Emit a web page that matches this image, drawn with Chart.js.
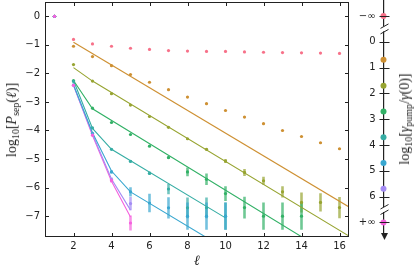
<!DOCTYPE html>
<html lang="en">
<head>
<meta charset="UTF-8" />
<title>Separation probability vs ell</title>
<script src="https://cdn.jsdelivr.net/npm/chart.js"></script>
<style>
  body { margin: 0; background: #fff; }
  #wrap { position: relative; width: 415px; height: 268px; overflow: hidden; background: #fff; }
  #main { position: absolute; left: 0; top: 0; }
  #pump { position: absolute; left: 350px; top: 0; }
  .vtitle {
    position: absolute; white-space: nowrap; line-height: 1;
    font-family: "Liberation Serif", serif; font-size: 14px; color: #222;
    transform: translate(-50%, -50%) rotate(-90deg);
  }
  .vtitle sub { font-size: 10px; vertical-align: -3px; line-height: 0; }
</style>
</head>
<body>
<div id="wrap">
  <canvas id="main" width="350" height="268"></canvas>
  <canvas id="pump" width="50" height="268"></canvas>
  <div class="vtitle" style="left:12px; top:120px">log<sub>10</sub>[<i>P</i><sub>sep</sub>(<i>ℓ</i>)]</div>
  <div class="vtitle" style="left:405px; top:119px">log<sub>10</sub>[<i>γ</i><sub>pump</sub>/<i>γ</i>(0)]</div>
</div>

<script>
  // ell values and log10 P_sep per pump strength (log10 gamma_pump/gamma(0))
  const ells = [1, 2, 3, 4, 5, 6, 7, 8, 9, 10, 11, 12, 13, 14, 15, 16];

  const pSepNone = [0, -0.81, -0.97, -1.05, -1.12, -1.16, -1.20, -1.22, -1.23, -1.23, -1.25, -1.26, -1.27, -1.28, -1.29, -1.30];
  const pSep07 = [0, -1.05, -1.41, -1.73, -2.04, -2.31, -2.57, -2.83, -3.06, -3.30, -3.53, -3.76, -4.00, -4.21, -4.43, -4.64];
  const pSep17 = [0, -1.69, -2.27, -2.71, -3.11, -3.51, -3.89, -4.29, -4.66, -5.07, -5.47, -5.76, -6.15, -6.52, -6.52, -6.70];
  const pSep27 = [0, -2.25, -3.22, -3.72, -4.14, -4.55, -4.95, -5.45, -5.71, -6.21, -6.70, -7.00, -7.00, -7.00];
  const pSep37 = [0, -2.28, -3.91, -4.66, -5.08, -5.50, -6.05, -6.71, -6.71, -7.00];
  const pSep47 = [0, -2.40, -4.10, -5.45, -6.15, -6.54, -6.71, -7.00, -7.00, -7.00];
  const pSep57 = [0, -2.42, -4.15, -5.72, -6.56];
  const pSepInf = [0, -2.42, -4.17, -5.75, -7.24];

  // error bar half-lengths (log10 units)
  const err07 = [0, 0, 0, 0, 0, 0, 0, 0, 0.01, 0.01, 0.01, 0.015, 0.015, 0.02, 0.02, 0.02];
  const err17 = [0, 0, 0, 0.01, 0.01, 0.015, 0.02, 0.03, 0.04, 0.07, 0.12, 0.14, 0.2, 0.35, 0.32, 0.37];
  const err27 = [0, 0, 0.01, 0.015, 0.02, 0.03, 0.05, 0.15, 0.2, 0.26, 0.38, 0.48, 0.48, 0.48];
  const err37 = [0, 0, 0.01, 0.03, 0.05, 0.06, 0.18, 0.36, 0.36, 0.48];
  const err47 = [0, 0, 0.02, 0.06, 0.16, 0.32, 0.37, 0.48, 0.48, 0.48];
  const err57 = [0, 0, 0.02, 0.07, 0.23];
  const errInf = [0, 0, 0.02, 0.07, 0.26];

  // fitted curves
  const fit07X = [2, 16.5], fit07Y = [-0.91, -6.68];
  const fit17X = [2, 3, 16.5], fit17Y = [-1.80, -2.27, -7.70];
  const fit27X = [2, 3, 14], fit27Y = [-2.25, -3.24, -7.72];
  const fit37X = [2, 3, 4, 10], fit37Y = [-2.25, -3.93, -4.66, -7.06];
  const fit47X = [2, 3, 4, 5, 10], fit47Y = [-2.40, -4.08, -5.42, -6.15, -8.15];
  const fit57X = [2, 3, 4, 5], fit57Y = [-2.42, -4.13, -5.70, -6.79];
  const fitInfX = [2, 3, 4, 5], fitInfY = [-2.42, -4.18, -5.78, -7.03];

  const xTicks = [2, 4, 6, 8, 10, 12, 14, 16];
  const yTicks = [-7, -6, -5, -4, -3, -2, -1, 0];

  // right-hand pump axis: -1 stands for -inf, 7 for +inf
  const pumpPos = [-1, 0.7, 1.7, 2.7, 3.7, 4.7, 5.7, 7];
  const pumpTicks = [-1, 0, 1, 2, 3, 4, 5, 6, 7];
  const pumpTickLabels = ['\u2212\u221E', '0', '1', '2', '3', '4', '5', '6', '+\u221E'];

  const colors = ['#f77189', '#ce9032', '#97a431', '#32b166', '#36ada4', '#39a7d0', '#a48cf4', '#f561dd'];

  const series = [
    { vals: pSepNone, err: null, fx: null, fy: null },
    { vals: pSep07, err: err07, fx: fit07X, fy: fit07Y },
    { vals: pSep17, err: err17, fx: fit17X, fy: fit17Y },
    { vals: pSep27, err: err27, fx: fit27X, fy: fit27Y },
    { vals: pSep37, err: err37, fx: fit37X, fy: fit37Y },
    { vals: pSep47, err: err47, fx: fit47X, fy: fit47Y },
    { vals: pSep57, err: err57, fx: fit57X, fy: fit57Y },
    { vals: pSepInf, err: errInf, fx: fitInfX, fy: fitInfY }
  ];
  series.forEach((s, i) => s.color = colors[i]);

  function rgba(hex, a) {
    const n = parseInt(hex.slice(1), 16);
    return `rgba(${n >> 16}, ${(n >> 8) & 255}, ${n & 255}, ${a})`;
  }
  const minus = v => v < 0 ? '\u2212' + Math.abs(v) : String(v);
  // pin the plot box: no extra room for edge labels
  function fixSize(s, w, h) {
    if (w != null) s.width = w;
    if (h != null) s.height = h;
    s.paddingTop = 0; s.paddingBottom = 0; s.paddingLeft = 0; s.paddingRight = 0;
  }

  Chart.defaults.font.family = 'DejaVu Sans';
  Chart.defaults.font.size = 10;
  Chart.defaults.color = '#222';

  const datasets = [];
  // points first in the list so they end up drawn on top; magenta first (topmost)
  series.slice().reverse().forEach(s => {
    datasets.push({
      data: s.vals.map((v, i) => ({ x: ells[i], y: v })),
      pointRadius: 1.6, pointBorderWidth: 0, pointBackgroundColor: s.color
    });
  });
  series.forEach(s => {
    if (!s.fx) return;
    datasets.push({
      data: s.fx.map((x, i) => ({ x: x, y: s.fy[i] })),
      showLine: true, pointRadius: 0, borderColor: s.color, borderWidth: 1.1, fill: false
    });
  });

  const errorBars = {
    id: 'errorBars',
    beforeDatasetsDraw(chart) {
      const { ctx, chartArea: a, scales: { x, y } } = chart;
      ctx.save();
      ctx.beginPath(); ctx.rect(a.left, a.top, a.width, a.height); ctx.clip();
      ctx.lineWidth = 2.6;
      series.forEach(s => {
        if (!s.err) return;
        ctx.strokeStyle = rgba(s.color, 0.7);
        s.vals.forEach((v, i) => {
          const e = s.err[i];
          if (!e) return;
          const px = x.getPixelForValue(ells[i]);
          ctx.beginPath();
          ctx.moveTo(px, y.getPixelForValue(v + e));
          ctx.lineTo(px, y.getPixelForValue(v - e));
          ctx.stroke();
        });
      });
      ctx.restore();
    }
  };

  // box around the plot with inward ticks on all four sides
  const frame = {
    id: 'frame',
    afterDraw(chart) {
      const { ctx, chartArea: a, scales: { x, y } } = chart;
      const L = Math.round(a.left) + 0.5, R = Math.round(a.right) - 0.5;
      const T = Math.round(a.top) + 0.5, B = Math.round(a.bottom) - 0.5;
      ctx.save();
      ctx.strokeStyle = '#222';
      ctx.lineWidth = 1;
      ctx.strokeRect(L, T, R - L, B - T);
      ctx.beginPath();
      x.ticks.forEach(t => {
        const px = Math.round(x.getPixelForValue(t.value)) + 0.5;
        ctx.moveTo(px, B); ctx.lineTo(px, B - 3.5);
        ctx.moveTo(px, T); ctx.lineTo(px, T + 3.5);
      });
      y.ticks.forEach(t => {
        const py = Math.round(y.getPixelForValue(t.value)) + 0.5;
        ctx.moveTo(L, py); ctx.lineTo(L + 3.5, py);
        ctx.moveTo(R, py); ctx.lineTo(R - 3.5, py);
      });
      ctx.stroke();
      ctx.restore();
    }
  };

  new Chart(document.getElementById('main'), {
    type: 'scatter',
    data: { datasets: datasets },
    options: {
      responsive: false,
      animation: false,
      layout: { autoPadding: false, padding: { top: 2, right: 1, left: 0, bottom: 0 } },
      plugins: { legend: { display: false }, tooltip: { enabled: false } },
      scales: {
        x: {
          type: 'linear', min: 0.5, max: 16.5,
          afterBuildTicks: s => { s.ticks = xTicks.map(v => ({ value: v })); },
          afterFit: s => fixSize(s, null, 31.3),
          ticks: { padding: 4, callback: v => minus(v) },
          grid: { display: false, drawTicks: false },
          border: { display: false },
          title: {
            display: true, text: 'ℓ', padding: { top: 0, bottom: 0 },
            font: { family: 'DejaVu Serif', style: 'italic', size: 14, lineHeight: 1 }
          }
        },
        y: {
          type: 'linear', min: -7.72, max: 0.5,
          afterBuildTicks: s => { s.ticks = yTicks.map(v => ({ value: v })); },
          afterFit: s => fixSize(s, 45, null),
          ticks: { padding: 5, callback: v => minus(v) },
          grid: { display: false, drawTicks: false },
          border: { display: false }
        }
      }
    },
    plugins: [errorBars, frame]
  });

  // crossing ticks, axis breaks and arrow head of the pump axis
  const pumpDecor = {
    id: 'pumpDecor',
    afterDraw(chart) {
      const { ctx, chartArea: a, scales: { y } } = chart;
      const X = Math.round(a.left) + 0.5;
      ctx.save();
      ctx.strokeStyle = '#222';
      ctx.lineWidth = 1;
      ctx.beginPath();
      y.ticks.forEach(t => {
        const py = Math.round(y.getPixelForValue(t.value)) + 0.5;
        ctx.moveTo(X - 5, py); ctx.lineTo(X + 5, py);
      });
      ctx.stroke();
      [-0.5, 6.5].forEach(v => {
        const c = y.getPixelForValue(v);
        ctx.fillStyle = '#fff';
        ctx.fillRect(X - 2, c - 2.5, 4, 5);
        ctx.beginPath();
        ctx.moveTo(X - 4, c - 0.5); ctx.lineTo(X + 4, c - 5);
        ctx.moveTo(X - 4, c + 5); ctx.lineTo(X + 4, c + 0.5);
        ctx.stroke();
      });
      ctx.fillStyle = '#222';
      ctx.beginPath();
      ctx.moveTo(X, a.bottom + 6);
      ctx.lineTo(X - 3.5, a.bottom - 1);
      ctx.lineTo(X + 3.5, a.bottom - 1);
      ctx.closePath();
      ctx.fill();
      ctx.restore();
    }
  };

  new Chart(document.getElementById('pump'), {
    type: 'scatter',
    data: {
      datasets: [{
        data: pumpPos.map(p => ({ x: 0, y: p })),
        pointRadius: 3, pointBorderWidth: 0, pointBackgroundColor: colors, clip: false
      }]
    },
    options: {
      responsive: false,
      animation: false,
      layout: { autoPadding: false, padding: { top: 0, right: 0, left: 0, bottom: 34 } },
      plugins: { legend: { display: false }, tooltip: { enabled: false } },
      scales: {
        x: { type: 'linear', display: false, min: 0, max: 1 },
        y: {
          type: 'linear', reverse: true, min: -1.62, max: 7.45,
          afterBuildTicks: s => { s.ticks = pumpTicks.map(v => ({ value: v })); },
          afterFit: s => fixSize(s, 33.5, null),
          ticks: { padding: 8, autoSkip: false, callback: v => pumpTickLabels[pumpTicks.indexOf(v)] },
          grid: { display: false, drawTicks: false },
          border: { display: true, color: '#222', width: 1.2 }
        }
      }
    },
    plugins: [pumpDecor]
  });
</script>
</body>
</html>
